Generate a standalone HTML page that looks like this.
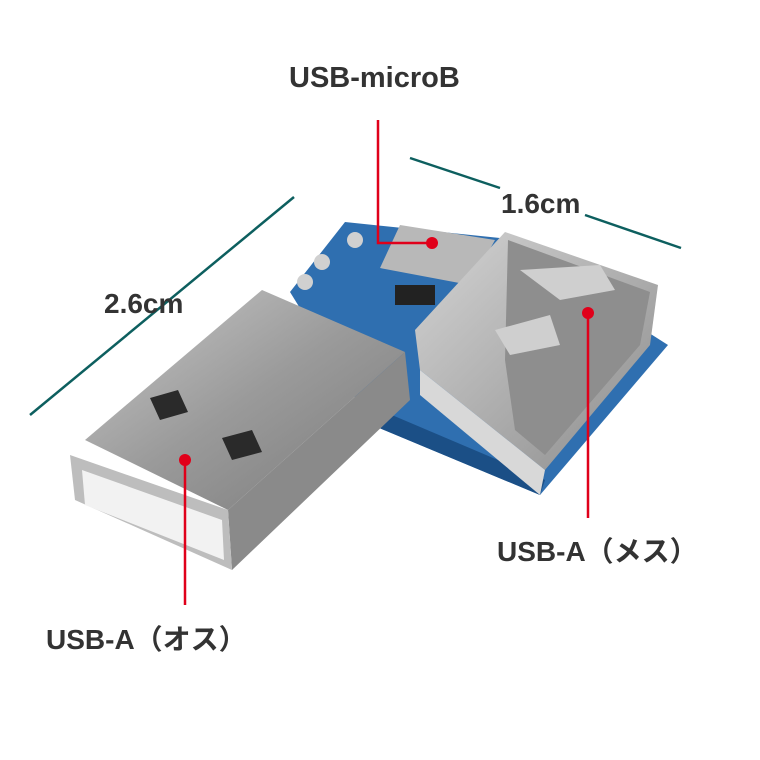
<!DOCTYPE html>
<html><head><meta charset="utf-8"><style>
html,body{margin:0;padding:0;background:#fff;width:760px;height:760px;overflow:hidden}
svg{display:block}
text{font-family:"Liberation Sans","Noto Sans CJK JP",sans-serif;font-weight:bold;fill:#333}
</style></head><body>
<svg width="760" height="760" viewBox="0 0 760 760">
<defs>
<linearGradient id="mt" x1="0" y1="0" x2="1" y2="1"><stop offset="0" stop-color="#c9c9c9"/><stop offset="0.5" stop-color="#9a9a9a"/><stop offset="1" stop-color="#7a7a7a"/></linearGradient>
<linearGradient id="fm" x1="0" y1="0" x2="1" y2="1"><stop offset="0" stop-color="#d4d4d4"/><stop offset="1" stop-color="#8c8c8c"/></linearGradient>
</defs>
<polygon points="345,222 500,238 668,345 540,495 372,425 290,292" fill="#2f6fb0"/>
<polygon points="372,425 540,495 545,480 380,410" fill="#1b4f86"/>
<circle cx="355" cy="240" r="8" fill="#d0d0d0"/><circle cx="322" cy="262" r="8" fill="#d0d0d0"/><circle cx="305" cy="282" r="8" fill="#d0d0d0"/>
<polygon points="400,225 495,240 470,285 380,268" fill="#b8b8b8"/>
<rect x="395" y="285" width="40" height="20" fill="#222"/>
<polygon points="415,330 505,232 658,285 650,345 545,470 420,370" fill="url(#fm)"/>
<polygon points="508,240 650,292 640,345 545,455 515,430 505,360" fill="#8e8e8e"/>
<polygon points="520,270 600,265 615,290 560,300" fill="#cfcfcf"/>
<polygon points="495,330 550,315 560,345 510,355" fill="#cfcfcf"/>
<polygon points="420,370 545,470 540,495 420,395" fill="#d8d8d8"/>
<polygon points="85,440 262,290 405,352 228,510" fill="url(#mt)"/>
<polygon points="228,510 405,352 410,400 232,570" fill="#8a8a8a"/>
<polygon points="70,455 228,510 232,570 75,500" fill="#bdbdbd"/>
<polygon points="82,470 222,520 224,560 85,505" fill="#f2f2f2"/>
<polygon points="150,398 178,390 188,412 160,420" fill="#2a2a2a"/>
<polygon points="222,438 252,430 262,452 232,460" fill="#2a2a2a"/>
<line x1="410" y1="158" x2="500" y2="188" stroke="#0d5f5f" stroke-width="2.5"/>
<line x1="585" y1="215" x2="681" y2="248" stroke="#0d5f5f" stroke-width="2.5"/>
<line x1="294" y1="197" x2="30" y2="415" stroke="#0d5f5f" stroke-width="2.5"/>
<polyline points="378,120 378,243 432,243" fill="none" stroke="#e0001a" stroke-width="2.5"/>
<circle cx="432" cy="243" r="6" fill="#e0001a"/>
<line x1="185" y1="460" x2="185" y2="605" stroke="#e0001a" stroke-width="2.5"/>
<circle cx="185" cy="460" r="6" fill="#e0001a"/>
<line x1="588" y1="313" x2="588" y2="518" stroke="#e0001a" stroke-width="2.5"/>
<circle cx="588" cy="313" r="6" fill="#e0001a"/>
<text x="289" y="87" font-size="29">USB-microB</text>
<text x="501" y="213" font-size="28">1.6cm</text>
<text x="104" y="313" font-size="28">2.6cm</text>
<text x="46" y="649" font-size="28">USB-A（オス）</text>
<text x="497" y="561" font-size="28">USB-A（メス）</text>
</svg>
</body></html>
